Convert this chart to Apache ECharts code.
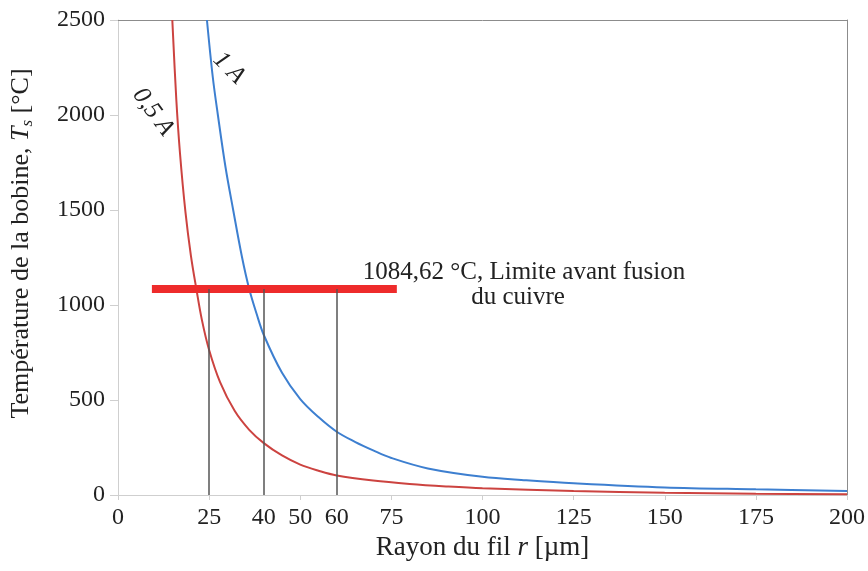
<!DOCTYPE html>
<html><head><meta charset="utf-8">
<script src="https://cdn.jsdelivr.net/npm/echarts@6/dist/echarts.min.js"></script>
<style>html,body{margin:0;padding:0;background:#fff}#c{width:868px;height:571px}</style>
</head><body><div id="c"></div>
<script>
// 0,5 A curve (radius µm, temperature °C)
const redR = [14.9, 16, 17, 18.5, 20, 21.5, 23, 25, 28, 32, 36, 40, 45, 50, 55, 60, 70, 80, 90, 100, 125, 150, 175, 200];
const redT = [2500, 2080, 1800, 1490, 1260, 1084, 923, 763, 594, 443, 343, 273, 208, 160, 128, 103, 76, 58, 45, 35, 21, 12, 7, 4];
// 1 A curve
const blueR = [24.4, 26, 27.4, 29.5, 31.6, 34, 36, 38, 40, 45, 50, 55, 60, 65, 70, 75, 85, 100, 112, 125, 150, 175, 200];
const blueT = [2500, 2200, 2000, 1725, 1500, 1254, 1084, 955, 842, 643, 505, 410, 333, 280, 235, 195, 140, 96, 78, 62, 40, 30, 21];
const xTickLabels = [0, 25, 40, 50, 60, 75, 100, 125, 150, 175, 200];
const xTicks = [0, 25, 50, 75, 100, 125, 150, 175, 200];
const meltTemp = 1084.62;
const meltSpan = [9.3, 76.5];
const dropRadii = [25, 40, 60];
const curveNames = ['0,5 A', '1 A'];

const FONT = '"Liberation Serif","Times New Roman",serif';
const chart = echarts.init(document.getElementById('c'));
const zip = (a, b) => a.map((v, i) => [v, b[i]]);

const option = {
  animation: false,
  textStyle: { fontFamily: FONT },
  grid: { left: 118, right: 21, top: 20, bottom: 76, containLabel: false, outerBoundsMode: 'none' },
  xAxis: [{
    type: 'value', min: 0, max: 200,
    name: 'Rayon du fil {i|r} [µm]', nameLocation: 'middle', nameGap: 38,
    nameTextStyle: { fontFamily: FONT, fontSize: 27, color: '#222',
      rich: { i: { fontFamily: FONT, fontSize: 27, fontStyle: 'italic', color: '#222' } } },
    axisLine: { show: true, lineStyle: { color: '#cfcfcf', width: 1 } },
    axisTick: { show: true, length: 5, customValues: xTicks, lineStyle: { color: '#cfcfcf' } },
    axisLabel: { customValues: xTickLabels, fontFamily: FONT, fontSize: 24, color: '#222', margin: 11 },
    splitLine: { show: false }
  }, {
    type: 'value', min: 0, max: 200, position: 'top',
    axisLine: { show: true, onZero: false, lineStyle: { color: '#8c8c8c', width: 1 } },
    axisTick: { show: false }, axisLabel: { show: false }, splitLine: { show: false }
  }],
  yAxis: [{
    type: 'value', min: 0, max: 2500, interval: 500,
    name: 'Température de la bobine, {i|T}{s|s} [°C]', nameLocation: 'middle', nameGap: 82,
    nameTextStyle: { fontFamily: FONT, fontSize: 26, color: '#222', padding: [0, 0, 0, 28],
      rich: { i: { fontFamily: FONT, fontSize: 26, fontStyle: 'italic', color: '#222' },
              s: { fontFamily: FONT, fontSize: 17, fontStyle: 'italic', color: '#222', verticalAlign: 'bottom', padding: [12, 0, 0, 0] } } },
    axisLine: { show: true, lineStyle: { color: '#cfcfcf', width: 1 } },
    axisTick: { show: true, length: 8, lineStyle: { color: '#cfcfcf' } },
    axisLabel: { fontFamily: FONT, fontSize: 24, color: '#222', margin: 13, formatter: v => String(v) },
    splitLine: { show: false }
  }, {
    type: 'value', min: 0, max: 2500, position: 'right',
    axisLine: { show: true, onZero: false, lineStyle: { color: '#8c8c8c', width: 1 } },
    axisTick: { show: false }, axisLabel: { show: false }, splitLine: { show: false }
  }],
  series: [
    {
      name: curveNames[0], type: 'line', data: zip(redR, redT), smooth: 0.35,
      showSymbol: false, lineStyle: { color: '#cc4340', width: 2 }, z: 3
    },
    {
      name: curveNames[1], type: 'line', data: zip(blueR, blueT), smooth: 0.35,
      showSymbol: false, lineStyle: { color: '#3d7fd0', width: 2 }, z: 3
    },
    {
      name: 'drops', type: 'line', data: [], z: 2,
      markLine: {
        silent: true, symbol: ['none', 'none'], label: { show: false },
        lineStyle: { color: '#555', width: 1.5, type: 'solid' },
        data: dropRadii.map(r => [{ coord: [r, 0] }, { coord: [r, meltTemp] }])
      }
    },
    {
      name: 'fusion', type: 'line', data: [[meltSpan[0], meltTemp], [meltSpan[1], meltTemp]],
      showSymbol: false, lineStyle: { color: '#ee2b2b', width: 8, cap: 'butt' }, z: 4
    }
  ],
  graphic: [
    { type: 'text', x: 153, y: 112, rotation: -54 * Math.PI / 180,
      style: { text: curveNames[0], font: 'italic 25px "Liberation Serif", serif', fill: '#222', align: 'center', verticalAlign: 'middle' } },
    { type: 'text', x: 229, y: 68, rotation: -45 * Math.PI / 180,
      style: { text: curveNames[1], font: 'italic 25px "Liberation Serif", serif', fill: '#222', align: 'center', verticalAlign: 'middle' } },
    { type: 'text', x: 524, y: 272,
      style: { text: '1084,62 °C, Limite avant fusion', font: '25px "Liberation Serif", serif', fill: '#222', align: 'center', verticalAlign: 'middle' } },
    { type: 'text', x: 518, y: 297,
      style: { text: 'du cuivre', font: '25px "Liberation Serif", serif', fill: '#222', align: 'center', verticalAlign: 'middle' } }
  ]
};
chart.setOption(option);
</script>
</body></html>
